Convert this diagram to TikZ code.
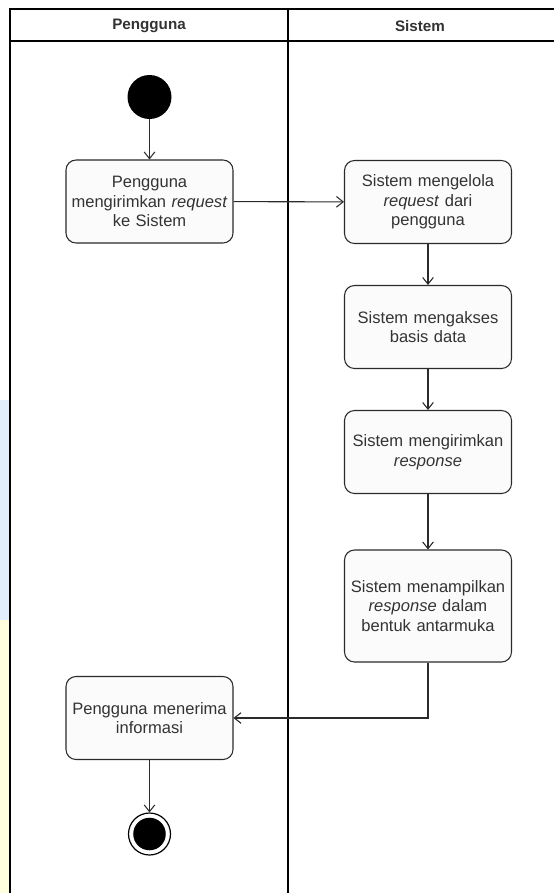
\documentclass[tikz,border=0pt]{standalone}
\usepackage{fontspec}
\setmainfont{Liberation Sans}
\usetikzlibrary{arrows.meta,positioning}
\definecolor{teks}{HTML}{333333}
\definecolor{garis}{HTML}{2B2B2B}
\definecolor{isian}{HTML}{FBFBFB}
\definecolor{biru}{HTML}{E2EEFB}
\definecolor{kuning}{HTML}{FFFFDD}
\begin{document}
\begin{tikzpicture}
		[x=0.75pt,y=-0.75pt,
		bingkai/.style={draw=black,line width=1.1pt},
		judul/.style={font=\fontsize{11.4}{13}\selectfont\bfseries,text=teks},
		aktivitas/.style={draw=garis,fill=isian,rounded corners=7.5pt,
			line width=0.8pt,minimum width=125.25pt,minimum height=62.25pt,
			text width=120pt,align=center,inner sep=0pt,text=teks,
			font=\fontsize{12.4}{14.6}\selectfont},
		awal/.style={circle,fill=black,minimum size=33pt,inner sep=0pt},
		akhir/.style={circle,draw=black,line width=0.9pt,minimum size=31.5pt,
			inner sep=0pt,path picture={\fill[black] (path picture bounding box.center) circle (12.2pt);}},
		panah/.style={draw=garis,line width=0.8pt,-{Straight Barb[length=5pt,width=8pt]}}]
		% latar
		\useasboundingbox (0,0) rectangle (554,893);
		\fill[white] (0,0) rectangle (554,893);
		\fill[biru] (0,400) rectangle (9,620);
		\fill[kuning] (0,620) rectangle (9,893);
		% lajur
		\draw[bingkai] (10,893) -- (10,9) -- (554,9);
		\draw[bingkai] (10,41) -- (554,41);
		\draw[bingkai] (288,9) -- (288,893);
		\node[judul] (lajurPengguna) at (149,26) {Pengguna};
		\node[judul] (lajurSistem) at (420,26) {Sistem};
		% aktivitas
		\node[awal] (mulai) at (149.5,97) {};
		\node[aktivitas] (kirim) at (149.5,201.5) {Pengguna\\mengirimkan \textit{request}\\ke Sistem};
		\node[aktivitas] (kelola) at (428,202) {Sistem mengelola\\\textit{request} dari\\pengguna};
		\node[aktivitas] (akses) at (428,327) {Sistem mengakses\\basis data};
		\node[aktivitas] (respon) at (428,452) {Sistem mengirimkan\\\textit{response}};
		\node[aktivitas,minimum height=84pt] (tampil) at (428,606) {Sistem menampilkan\\\textit{response} dalam\\bentuk antarmuka};
		\node[aktivitas] (terima) at (149.5,718) {Pengguna menerima\\informasi};
		\node[akhir] (selesai) at (149.5,834) {};
		% alur
		\draw[panah] (mulai) -- (kirim);
		\draw[panah] (kirim) -- (kelola);
		\draw[panah] (kelola) -- (akses);
		\draw[panah] (akses) -- (respon);
		\draw[panah] (respon) -- (tampil);
		\draw[panah] (tampil.south) |- (terima.east);
		\draw[panah] (terima) -- (selesai);
	\end{tikzpicture}
\end{document}
